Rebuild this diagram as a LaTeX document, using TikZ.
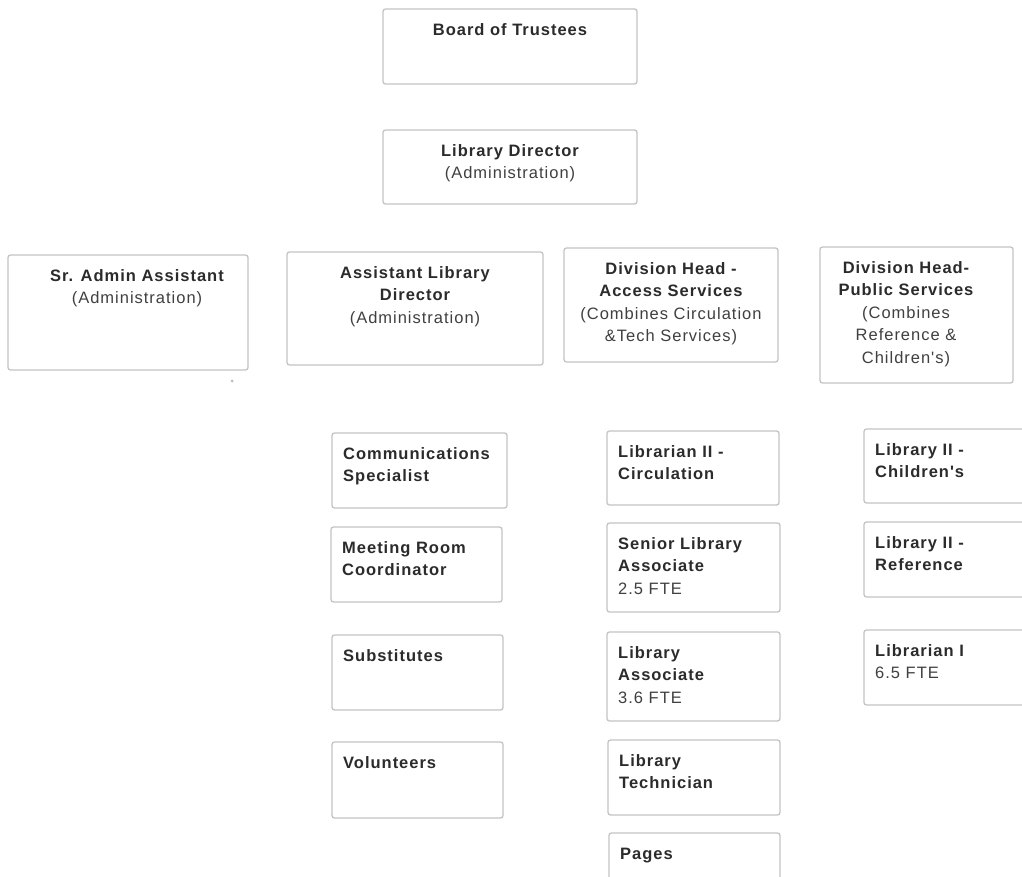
\documentclass[tikz,border=0pt]{standalone}
\usepackage{fontspec}
\setmainfont{Liberation Sans}[LetterSpace=6,Ligatures=TeXOff]
\usetikzlibrary{fit}
\definecolor{tdark}{HTML}{2B2B2B}
\definecolor{tmid}{HTML}{404040}
\definecolor{bline}{HTML}{C4C4C4}
\tikzset{
  orgframe/.style={draw=bline, line width=1.3pt, rounded corners=2.5pt, inner sep=0pt},
  orgtext/.style={inner sep=0pt, font=\fontsize{16.5}{22.5}\selectfont, text=tmid},
}
\newcommand\orgb[1]{{\color{tdark}\bfseries #1}}
\newcommand\orgcbox[7]{%
  \coordinate (#1-nw) at (#2,#3);
  \coordinate (#1-se) at (#4,#5);
  \node[orgframe, fit=(#1-nw)(#1-se)] (#1) {};
  \node[orgtext, align=center, anchor=north] (#1-t) at (#6,{#3+13.5}) {\rule{0pt}{12.5pt}#7};}
\newcommand\orglbox[6]{%
  \coordinate (#1-nw) at (#2,#3);
  \coordinate (#1-se) at (#4,#5);
  \node[orgframe, fit=(#1-nw)(#1-se)] (#1) {};
  \node[orgtext, align=left, anchor=north west] (#1-t) at ({#2+11},{#3+13.5}) {\rule{0pt}{12.5pt}#6};}
\begin{document}
\begin{tikzpicture}[x=1pt,y=-1pt]
\useasboundingbox (0,0) rectangle (1022,877);
\clip (0,0) rectangle (1022,877);
\fill[white] (0,0) rectangle (1022,877);
% top levels
\orgcbox{bt}{383}{9}{637}{84}{510}{\orgb{Board of Trustees}}
\orgcbox{ld}{383}{130}{637}{204}{510}{\orgb{Library Director}\\(Administration)}
% second level
\orgcbox{sa}{8}{255}{248}{370}{137}{\orgb{Sr. Admin Assistant}\\(Administration)}
\orgcbox{ad}{287}{252}{543}{365}{415}{\orgb{Assistant Library}\\\orgb{Director}\\(Administration)}
\orgcbox{da}{564}{248}{778}{362}{671}{\orgb{Division Head -}\\\orgb{Access Services}\\(Combines Circulation\\\&Tech Services)}
\orgcbox{dp}{820}{247}{1013}{383}{906}{\orgb{Division Head-}\\\orgb{Public Services}\\(Combines\\Reference \&\\Children's)}
\fill[gray!55] (232,381) circle (1.5pt);
% assistant director column
\orglbox{cs}{332}{433}{507}{508}{\orgb{Communications}\\\orgb{Specialist}}
\orglbox{mr}{331}{527}{502}{602}{\orgb{Meeting Room}\\\orgb{Coordinator}}
\orglbox{su}{332}{635}{503}{710}{\orgb{Substitutes}}
\orglbox{vo}{332}{742}{503}{818}{\orgb{Volunteers}}
% access services column
\orglbox{lc}{607}{431}{779}{505}{\orgb{Librarian II -}\\\orgb{Circulation}}
\orglbox{sla}{607}{523}{780}{612}{\orgb{Senior Library}\\\orgb{Associate}\\2.5 FTE}
\orglbox{la}{607}{632}{780}{721}{\orgb{Library}\\\orgb{Associate}\\3.6 FTE}
\orglbox{lt}{608}{740}{780}{815}{\orgb{Library}\\\orgb{Technician}}
\orglbox{pg}{609}{833}{780}{900}{\orgb{Pages}}
% public services column
\orglbox{lch}{864}{429}{1034}{503}{\orgb{Library II -}\\\orgb{Children's}}
\orglbox{lre}{864}{522}{1034}{597}{\orgb{Library II -}\\\orgb{Reference}}
\orglbox{li}{864}{630}{1034}{705}{\orgb{Librarian I}\\6.5 FTE}
\end{tikzpicture}
\end{document}
